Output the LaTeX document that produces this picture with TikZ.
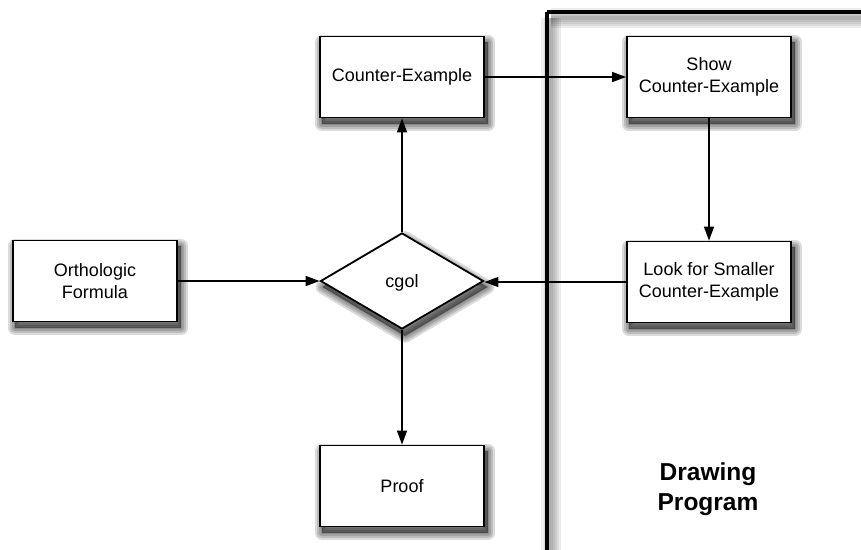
\documentclass[tikz,border=0pt]{standalone}
\usepackage{fontspec}
\setmainfont{Liberation Sans}
\usetikzlibrary{arrows.meta,shapes.geometric,backgrounds}

\begin{document}
\begin{tikzpicture}[x=1pt,y=-1pt,
  procbox/.style={draw=black,fill=white,line width=1.8pt,
      minimum width=164pt,minimum height=81pt,inner sep=0pt,
      align=center,font=\fontsize{18}{22}\selectfont},
  decision/.style={diamond,draw=black,fill=white,line width=1.8pt,
      minimum width=163pt,minimum height=96pt,inner sep=0pt,
      text depth=0pt,font=\fontsize{18}{22}\selectfont},
  flow/.style={line width=1.5pt,-{Triangle[length=14pt,width=10pt]}},
  region/.style={line width=3.5pt},
  regionshade/.style={draw=black,opacity=0.07},
  shadelayer/.style={fill=black,draw=black,opacity=0.14,line join=round}
]
\useasboundingbox (0,0) rectangle (861,549);

% soft shadow cast by the border of the program region
\foreach \w in {20,15,11,7,4}{
  \draw[regionshade,line width=\w pt] (551,18) -- (551,600);
  \draw[regionshade,line width=\w pt] (551,18) -- (880,18);
}
% program region frame
\draw[region] (547,12) -- (547,600);
\draw[region] (547,12) -- (880,12);
\node[font=\fontsize{24.5}{30}\selectfont\bfseries,align=center] (title)
  at (708,489) {Drawing\\Program};

% process nodes
\node[procbox] (ce)    at (402,77)  {Counter-Example};
\node[procbox] (show)  at (709,77)  {Show\\Counter-Example};
\node[procbox] (look)  at (709,282) {Look for Smaller\\Counter-Example};
\node[procbox] (ortho) at (95,281)  {Orthologic\\Formula};
\node[procbox] (proof) at (402,486) {Proof};
\node[decision] (cgol) at (402,281) {cgol};

% soft drop shadows behind the nodes
\begin{pgfonlayer}{background}
  \foreach \n in {ce,show,look,ortho,proof}{
    \foreach \w in {14,10,6,2}{
      \filldraw[shadelayer,line width=\w pt]
        ([shift={(3,6)}]\n.north west) rectangle ([shift={(3,6)}]\n.south east);
    }
  }
  \foreach \w in {14,10,6,2}{
    \filldraw[shadelayer,line width=\w pt]
      ([shift={(3,6)}]cgol.north) -- ([shift={(3,6)}]cgol.east)
      -- ([shift={(3,6)}]cgol.south) -- ([shift={(3,6)}]cgol.west) -- cycle;
  }
\end{pgfonlayer}

% connectors
\draw[flow] (ortho.east) -- (cgol.west);
\draw[flow] (look.west) -- (look.west -| cgol.east);
\draw[flow] (cgol.north) -- (ce.south);
\draw[flow] (cgol.south) -- (proof.north);
\draw[flow] (ce.east) -- (show.west);
\draw[flow] (show.south) -- (look.north);
\end{tikzpicture}
\end{document}
